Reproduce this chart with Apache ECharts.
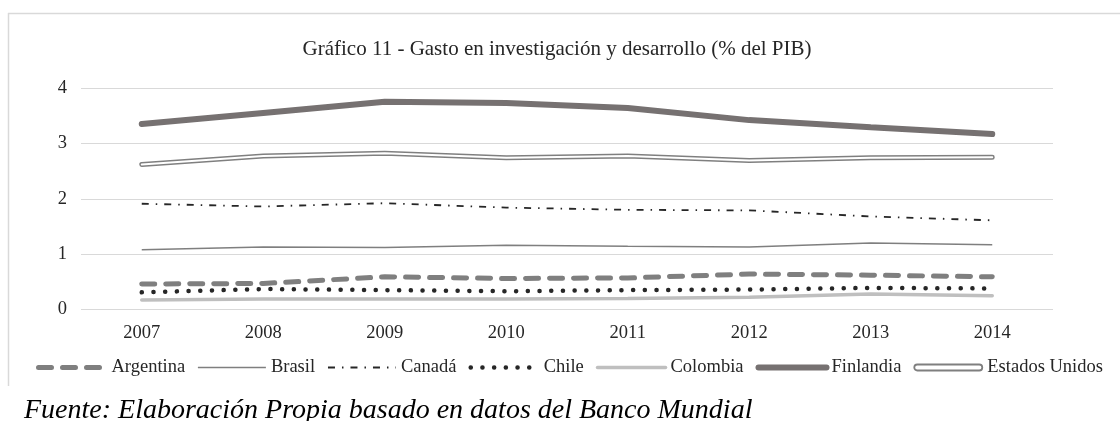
<!DOCTYPE html>
<html>
<head>
<meta charset="utf-8">
<script src="https://cdn.jsdelivr.net/npm/echarts@6/dist/echarts.min.js"></script>
<style>
  html, body { margin: 0; padding: 0; background: #fff; }
  #chart { width: 1120px; height: 421px; }
</style>
</head>
<body>
<div id="chart"></div>
<script>
const years = ['2007', '2008', '2009', '2010', '2011', '2012', '2013', '2014']
const argentina = [0.46, 0.47, 0.59, 0.56, 0.57, 0.64, 0.62, 0.59]
const brasil = [1.08, 1.13, 1.12, 1.16, 1.14, 1.13, 1.20, 1.17]
const canada = [1.91, 1.86, 1.92, 1.84, 1.80, 1.79, 1.68, 1.61]
const chile = [0.31, 0.37, 0.35, 0.33, 0.35, 0.36, 0.39, 0.38]
const colombia = [0.17, 0.19, 0.19, 0.19, 0.20, 0.22, 0.28, 0.25]
const finlandia = [3.35, 3.55, 3.75, 3.73, 3.64, 3.42, 3.29, 3.17]
const eeuu = [2.62, 2.77, 2.82, 2.74, 2.77, 2.69, 2.74, 2.75]

const font = '"Liberation Serif", "DejaVu Serif", serif'
const chart = echarts.init(document.getElementById('chart'))

// estilos de cada país (se usan en la serie y en la leyenda)
const estilos = {
  'Argentina': { color: '#7f7f7f', width: 5, type: [13, 11], cap: 'round' },
  'Brasil': { color: '#7f7f7f', width: 1.5 },
  'Canadá': { color: '#262626', width: 1.8, type: [7, 7, 1.5, 7] },
  'Chile': { color: '#262626', width: 4.5, type: [0.1, 11.6], cap: 'round' },
  'Colombia': { color: '#bfbfbf', width: 3.5, cap: 'round' },
  'Finlandia': { color: '#767171', width: 6, cap: 'round' },
  'Estados Unidos': { color: '#7f7f7f', width: 5, cap: 'round' }
}

function serie(name, data, lineStyle) {
  return {
    name: name,
    type: 'line',
    data: data,
    symbol: 'none',
    silent: true,
    itemStyle: { color: lineStyle.color },
    lineStyle: lineStyle
  }
}

function leyenda(name) {
  return { name: name, lineStyle: estilos[name], itemStyle: { opacity: 0 } }
}

chart.setOption({
  animation: false,
  title: {
    text: 'Gráfico 11 - Gasto en investigación y desarrollo (% del PIB)',
    left: 552,
    textAlign: 'center',
    top: 34,
    textStyle: { fontFamily: font, fontSize: 21, fontWeight: 'normal', color: '#262626' }
  },
  grid: { left: 81, right: 67, top: 88, bottom: 111.5 },
  legend: {
    left: 31,
    top: 353,
    width: 1085,
    itemWidth: 68,
    itemHeight: 14,
    itemGap: 12,
    textStyle: { fontFamily: font, fontSize: 18.5, color: '#262626' },
    data: [
      leyenda('Argentina'), leyenda('Brasil'), leyenda('Canadá'), leyenda('Chile'),
      leyenda('Colombia'), leyenda('Finlandia'),
      {
        name: 'Estados Unidos',
        icon: 'path://M3,0 L65,0 A3,3 0 0 1 65,6 L3,6 A3,3 0 0 1 3,0 Z',
        itemStyle: { color: '#fff', borderColor: '#7f7f7f', borderWidth: 1.8, opacity: 1 }
      }
    ]
  },
  xAxis: {
    type: 'category',
    data: years,
    axisLine: { show: false },
    axisTick: { show: false },
    axisLabel: { fontFamily: font, fontSize: 18.5, color: '#262626', margin: 14 }
  },
  yAxis: {
    type: 'value',
    min: 0,
    max: 4,
    interval: 1,
    axisLabel: { fontFamily: font, fontSize: 18.5, color: '#262626', margin: 14 },
    splitLine: { lineStyle: { color: '#d9d9d9', width: 1.2 } }
  },
  series: [
    serie('Argentina', argentina, estilos['Argentina']),
    serie('Brasil', brasil, estilos['Brasil']),
    serie('Canadá', canada, estilos['Canadá']),
    serie('Chile', chile, estilos['Chile']),
    serie('Colombia', colombia, estilos['Colombia']),
    serie('Finlandia', finlandia, estilos['Finlandia']),
    serie('Estados Unidos', eeuu, estilos['Estados Unidos']),
    // relleno blanco de la línea doble
    serie('EEUU interior', eeuu, { color: '#fff', width: 2, cap: 'round' })
  ],
  graphic: [
    { type: 'line', shape: { x1: 8.5, y1: 13, x2: 8.5, y2: 386 }, style: { stroke: '#d9d9d9', lineWidth: 1.5 } },
    { type: 'line', shape: { x1: 8, y1: 13.5, x2: 1120, y2: 13.5 }, style: { stroke: '#d9d9d9', lineWidth: 1.5 } },
    {
      type: 'text',
      left: 24,
      top: 397,
      style: {
        text: 'Fuente: Elaboración Propia basado en datos del Banco Mundial',
        font: 'italic 28px ' + font,
        fill: '#000'
      }
    }
  ]
})
</script>
</body>
</html>
